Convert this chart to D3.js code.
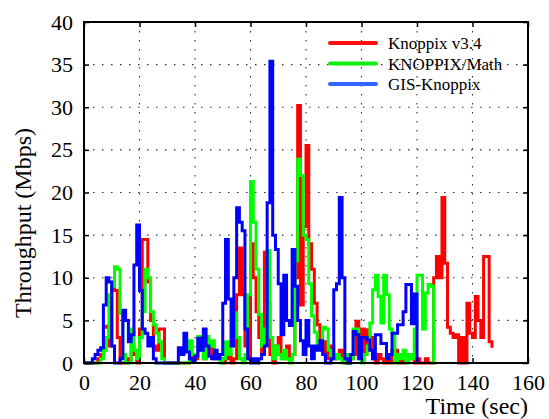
<!DOCTYPE html>
<html>
<head>
<meta charset="utf-8">
<script src="https://cdn.jsdelivr.net/npm/d3@7"></script>
<style>
  body { margin: 0; background: #fff; }
  svg { display: block; }
  svg text { font-family: "Liberation Serif", "Times New Roman", Times, "DejaVu Serif", serif; }
</style>
</head>
<body>
<div id="chart"></div>
<script>
// Throughput per second (Mbps), index = time in seconds
const knoppixV34 = [
  0, 0, 0, 0, 0, 0.5, 1, 4.2, 4.3, 2,
  9, 8.5, 3, 0, 0, 0, 0.5, 2, 1, 0,
  4, 14.5, 14.5, 9.5, 5, 2, 1.5, 4, 4, 0,
  0, 0, 0, 0, 0, 0, 0, 0, 0.5, 1,
  0.5, 1.5, 1.5, 0.5, 2.3, 2.3, 1, 0.5, 1, 0.5,
  0, 0.5, 1, 0, 0.5, 8, 13.5, 8, 2, 0.5,
  14, 10, 6, 3, 1, 13, 7, 1, 0, 2,
  3, 1, 0.5, 2, 0.5, 1, 10, 30.2, 6.8, 16,
  25.5, 14, 11, 7, 4.5, 2, 2.5, 0.5, 1.5, 2,
  0.5, 1, 1.5, 0.5, 0, 0, 0.5, 1, 4.9, 2.7,
  4, 1.3, 3.9, 3, 0.5, 0, 1, 0.5, 0, 0.5,
  0, 1.5, 1.5, 0, 0.5, 0, 0.5, 1, 0.5, 0,
  0.5, 0, 0, 0.5, 0, 0, 10, 12.5, 10, 19.4,
  11.7, 4.2, 3.5, 3, 3.3, 0, 3, 0, 7, 3.5,
  3, 7.8, 5, 3, 12.5, 12.5, 2.5, 1.8
];

const knoppixMath = [
  0, 0, 0, 0, 0, 0, 0.5, 1.5, 3, 8,
  9, 11.3, 11, 5.8, 1, 0, 0, 4, 1.5, 0.5,
  3, 6, 11, 10, 6, 4.5, 3.5, 2.5, 0.5, 0,
  0, 0, 0, 0, 0, 0, 0, 0, 2.6, 1,
  0.8, 3.1, 1.5, 0.5, 3.1, 2, 2.6, 1, 0.5, 0,
  0.5, 2.5, 1, 2, 5.9, 3, 0.5, 0, 1, 8,
  21.3, 16.5, 11, 5.7, 2, 4, 13.2, 3, 0.5, 2,
  1, 0.5, 1.5, 0.5, 0, 1, 12, 23.9, 22, 15,
  14.5, 9.3, 5.5, 3.6, 1.6, 2, 4.2, 4, 1.5, 0.5,
  0.5, 1, 0.5, 0, 1, 0, 0.5, 4, 4, 0.5,
  0, 1, 2, 4.7, 8.6, 10.3, 7.8, 4.7, 10.3, 8,
  4, 3.5, 0, 1, 0.5, 1.5, 0, 1, 0.5, 4,
  10.3, 10.3, 4, 8.2, 9.2, 9, 0, 0
];

const gisKnoppix = [
  0, 0, 0, 0.5, 1, 1.5, 1.8, 6.8, 10, 9.5,
  2, 0, 0, 0.5, 6.2, 5, 2.5, 3.3, 11.5, 16.2,
  8.5, 4, 3.5, 2, 3, 0.5, 0, 0, 0, 0,
  0, 0, 0, 0, 1.8, 1, 3.5, 1.3, 0.5, 0.3,
  0.8, 2.9, 1.5, 4, 2, 0.8, 0.5, 1.5, 0.5, 1,
  7, 14.5, 7.5, 2, 10, 18.2, 16.5, 15.5, 4, 0.5,
  0, 0.5, 0, 0.5, 1, 2, 18.8, 35.4, 15, 13.3,
  9.3, 3.3, 10.3, 5, 4.4, 13.3, 9, 5, 2.6, 1,
  5, 2, 0.5, 2, 1.5, 2.6, 1, 0, 0, 0.5,
  8.6, 9.3, 19.4, 10, 0.5, 0, 1, 3.7, 3.3, 0.5,
  3, 3, 2.7, 1.5, 0.5, 3.3, 3.3, 2.3, 2.3, 0.5,
  1, 3.5, 3.5, 4.5, 4.5, 6, 9.2, 9.2, 4.6, 8.1,
  0
];

const seriesNames = ['Knoppix v3.4', 'KNOPPIX/Math', 'GIS-Knoppix'];
const seriesColors = ['#ff0000', '#00ff00', '#0000ff'];
const legendColors = ['#ff1010', '#10f010', '#3366ff'];
const xTicks = [0, 20, 40, 60, 80, 100, 120, 140, 160];
const yTicks = [0, 5, 10, 15, 20, 25, 30, 35, 40];

const width = 549;
const height = 419;
const margin = { top: 22, right: 21, bottom: 56, left: 84 };

const x = d3.scaleLinear().domain([0, 160]).range([margin.left, width - margin.right]);
const y = d3.scaleLinear().domain([0, 40]).range([height - margin.bottom, margin.top]);

const svg = d3
  .select('#chart')
  .append('svg')
  .attr('width', width)
  .attr('height', height);

// dotted grid
const grid = svg.append('g')
  .attr('stroke', '#333')
  .attr('stroke-width', 1.1)
  .attr('stroke-dasharray', '1.5,7.5');

grid.selectAll('.vg')
  .data(xTicks.slice(1, -1))
  .join('line')
  .attr('x1', d => x(d)).attr('x2', d => x(d))
  .attr('y1', y(40)).attr('y2', y(0));

grid.selectAll('.hg')
  .data(yTicks.slice(1, -1))
  .join('line')
  .attr('y1', d => y(d)).attr('y2', d => y(d))
  .attr('x1', x(0)).attr('x2', x(160));

// series lines (stair steps, one sample per second)
const line = d3.line()
  .x((d, i) => x(i))
  .y(d => y(d))
  .curve(d3.curveStepAfter);

const allSeries = [knoppixV34, knoppixMath, gisKnoppix];

svg.append('g')
  .attr('fill', 'none')
  .attr('stroke-width', 3)
  .attr('stroke-linejoin', 'miter')
  .selectAll('path')
  .data(allSeries)
  .join('path')
  .attr('stroke', (d, i) => seriesColors[i])
  .attr('d', d => line(d));

// axes, ticks pointing inward on all four sides
const styleAxis = g => {
  g.attr('font-family', null);
  g.select('.domain').remove();
  g.selectAll('.tick line').attr('stroke', '#000').attr('stroke-width', 1.5);
  g.selectAll('text')
    .style('font-size', '22px')
    .attr('fill', '#000');
};

svg.append('g')
  .attr('transform', `translate(0,${y(0)})`)
  .call(d3.axisBottom(x).tickValues(xTicks).tickSizeInner(-5).tickSizeOuter(0).tickPadding(8))
  .call(styleAxis)
  .selectAll('text').attr('dy', '0.85em');

svg.append('g')
  .attr('transform', `translate(${x(0)},0)`)
  .call(d3.axisLeft(y).tickValues(yTicks).tickSizeInner(-5).tickSizeOuter(0).tickPadding(11))
  .call(styleAxis);

svg.append('g')
  .attr('transform', `translate(0,${y(40)})`)
  .call(d3.axisTop(x).tickValues(xTicks).tickSizeInner(-5).tickSizeOuter(0).tickFormat(''))
  .call(styleAxis);

svg.append('g')
  .attr('transform', `translate(${x(160)},0)`)
  .call(d3.axisRight(y).tickValues(yTicks).tickSizeInner(-5).tickSizeOuter(0).tickFormat(''))
  .call(styleAxis);

// frame
svg.append('rect')
  .attr('x', x(0))
  .attr('y', y(40))
  .attr('width', x(160) - x(0))
  .attr('height', y(0) - y(40))
  .attr('fill', 'none')
  .attr('stroke', '#000')
  .attr('stroke-width', 2);

// axis titles
svg.append('text')
  .attr('x', x(160))
  .attr('y', 414)
  .attr('text-anchor', 'end')
  .style('font-size', '24px')
  .text('Time (sec)');

svg.append('text')
  .attr('transform', 'translate(31,223) rotate(-90)')
  .attr('text-anchor', 'middle')
  .style('font-size', '24px')
  .text('Throughput (Mbps)');

// legend
const legend = svg.append('g')
  .selectAll('g')
  .data(seriesNames)
  .join('g')
  .attr('transform', (d, i) => `translate(330,${43 + i * 20.5})`);

legend.append('line')
  .attr('x1', 0).attr('x2', 46)
  .attr('y1', 0).attr('y2', 0)
  .attr('stroke', (d, i) => legendColors[i])
  .attr('stroke-width', 4)
  .attr('stroke-linecap', 'round');

legend.append('text')
  .attr('x', 58)
  .attr('y', 6)
  .style('font-size', '17px')
  .text(d => d);
</script>
</body>
</html>
